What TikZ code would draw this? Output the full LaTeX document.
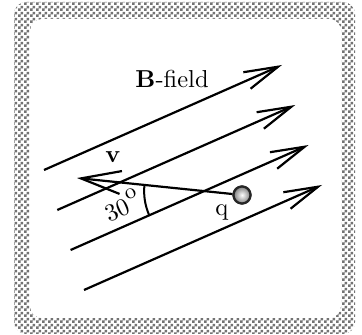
\documentclass[tikz,border=0pt]{standalone}
\usetikzlibrary{arrows.meta,patterns,calc}
\pgfdeclarepatternformonly{framechecker}{\pgfqpoint{0pt}{0pt}}{\pgfqpoint{6pt}{6pt}}{\pgfqpoint{6pt}{6pt}}{%
  \pgfpathrectangle{\pgfqpoint{0pt}{0pt}}{\pgfqpoint{3pt}{3pt}}%
  \pgfpathrectangle{\pgfqpoint{3pt}{3pt}}{\pgfqpoint{3pt}{3pt}}%
  \pgfusepath{fill}}
\begin{document}
\begin{tikzpicture}[x=1pt,y=1pt,
  fieldline/.style={line width=2.2pt, -{Straight Barb[length=34pt,width=18pt]}},
  velocity/.style={line width=2.2pt, -{Straight Barb[length=40pt,width=23pt]}},
  anglearc/.style={line width=2pt},
  lbl/.style={inner sep=0pt, scale=2.45},
  charge/.style={circle, draw=black!85, line width=2.2pt, inner color=white,
    outer color=black!50, minimum size=17pt, inner sep=0pt}]
\useasboundingbox (0,0) rectangle (362,335);
\fill[white] (0,0) rectangle (362,335);
% frame
\path[pattern=framechecker, pattern color=black!55, rounded corners=12pt] (14,1) rectangle (355,333);
\fill[white, rounded corners=12pt] (30,17) rectangle (341,316);
% field lines
\coordinate (a1) at (44,165);   \coordinate (b1) at (282,270);
\coordinate (a2) at (57.3,125); \coordinate (b2) at (295.3,230);
\coordinate (a3) at (70.6,85);  \coordinate (b3) at (308.6,190);
\coordinate (a4) at (84,45);    \coordinate (b4) at (322,150);
\draw[fieldline] (a1) -- (b1);
\draw[fieldline] (a2) -- (b2);
\draw[fieldline] (a3) -- (b3);
\draw[fieldline] (a4) -- (b4);
% velocity
\coordinate (qc) at (242,140);
\coordinate (vtip) at (77,157);
\node[charge] (q) at (qc) {};
\draw[velocity] (q) -- (vtip);
\node[charge] at (qc) {};
% angle
\coordinate (O) at (intersection of qc--vtip and a3--b3);
\draw[anglearc] ($(O)+(174.1:60)$) arc[start angle=174.1, end angle=203.8, radius=60];
% labels
\node[lbl, anchor=base west] (bfield) at (135,247) {\textbf{B}-field};
\node[lbl, anchor=base west] (vlabel) at (105,172) {\textbf{v}};
\node[lbl, anchor=base west] (qlabel) at (215,119) {q};
\node[lbl, anchor=base west, rotate=23.8] (anglelabel) at (109,112) {30\kern0.4pt\raisebox{5.5pt}{\small o}};
\end{tikzpicture}
\end{document}
